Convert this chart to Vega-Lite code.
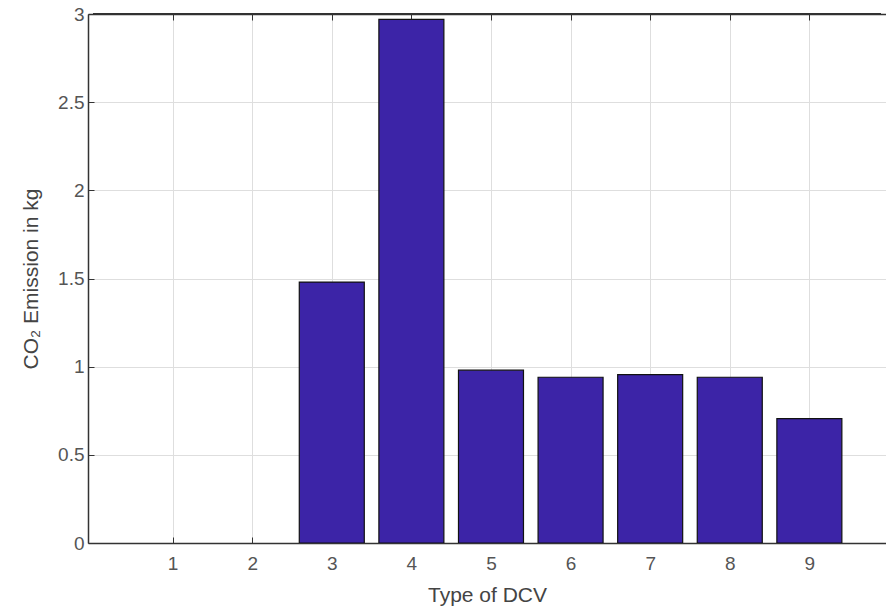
{
  "$schema": "https://vega.github.io/schema/vega-lite/v6.json",
  "width": 798,
  "height": 529,
  "autosize": "none",
  "padding": {"left": 88, "top": 14, "right": 0, "bottom": 70},
  "background": "white",
  "config": {
    "view": {"stroke": null},
    "font": "Liberation Sans",
    "axis": {
      "labelFont": "Liberation Sans",
      "titleFont": "Liberation Sans",
      "labelFontSize": 19,
      "titleFontSize": 21,
      "labelColor": "#555555",
      "titleColor": "#444444",
      "titleFontWeight": "normal",
      "domainColor": "#333333",
      "domainWidth": 1.5,
      "tickColor": "#333333",
      "tickSize": -6,
      "gridColor": "#dedede",
      "gridWidth": 1
    }
  },
  "data": {
    "values": [
      {"type": 1, "co2": 0},
      {"type": 2, "co2": 0},
      {"type": 3, "co2": 1.48},
      {"type": 4, "co2": 2.97},
      {"type": 5, "co2": 0.98},
      {"type": 6, "co2": 0.94},
      {"type": 7, "co2": 0.955},
      {"type": 8, "co2": 0.94},
      {"type": 9, "co2": 0.705}
    ]
  },
  "layer": [
    {
      "transform": [{"filter": "datum.co2 > 0"}],
      "mark": {"type": "bar", "size": 65, "color": "#3c24a7", "stroke": "#111111", "strokeWidth": 1.2, "clip": true},
      "encoding": {
        "x": {
          "field": "type", "type": "quantitative",
          "scale": {"domain": [0, 9.9], "nice": false, "zero": false},
          "axis": {"values": [1,2,3,4,5,6,7,8,9], "title": "Type of DCV", "titlePadding": 11, "labelPadding": 17, "grid": true}
        },
        "y": {
          "field": "co2", "type": "quantitative",
          "scale": {"domain": [0, 3], "nice": false},
          "axis": {"values": [0, 0.5, 1, 1.5, 2, 2.5, 3], "format": "~g", "title": "CO₂ Emission in kg", "titlePadding": 16, "labelPadding": 10, "grid": true, "labelFlush": false}
        }
      }
    },
    {
      "mark": {"type": "rule", "color": "#333333", "strokeWidth": 1.5},
      "encoding": {
        "y": {"datum": 3, "type": "quantitative", "scale": {"domain": [0, 3], "nice": false}},
        "x": {"datum": 0, "type": "quantitative", "scale": {"domain": [0, 9.9], "nice": false, "zero": false},
              "axis": {"orient": "top", "values": [1,2,3,4,5,6,7,8,9], "labels": false, "title": null, "grid": false, "domain": true}},
        "x2": {"datum": 9.9}
      }
    }
  ],
  "resolve": {"axis": {"x": "independent"}}
}
